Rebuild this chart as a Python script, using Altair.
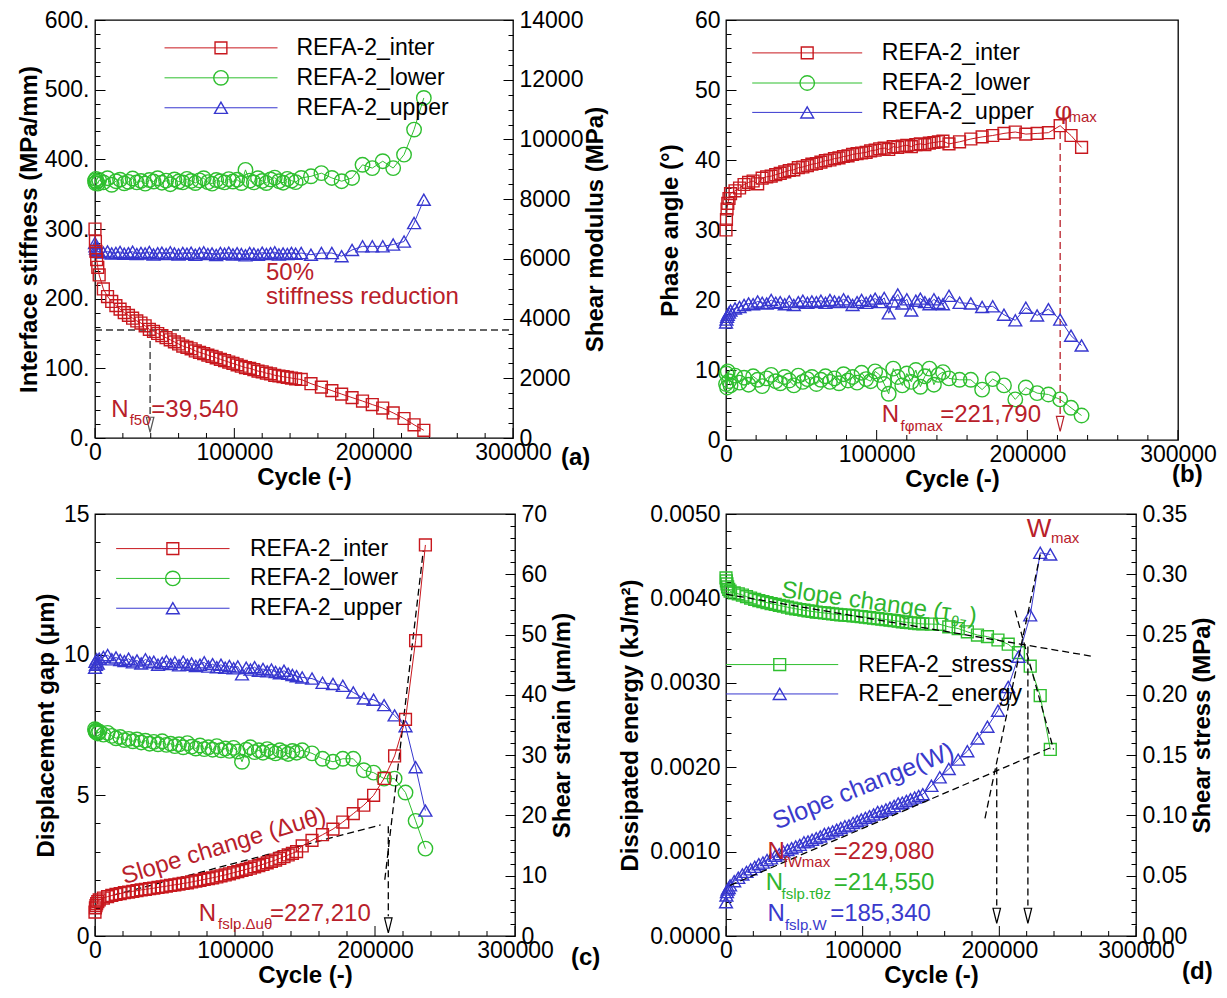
import altair as alt
import pandas as pd

FONT = "Liberation Sans"
SERIF = "DejaVu Serif"

# ------------------------------------------------------------------ data
CYC_DENSE = [0, 300, 700, 1200, 2000, 3000, 6000, 9000, 12000, 15000, 18000, 21000, 24000,
             27000, 30000, 33000, 36000, 39000, 42000, 45000, 48000, 51000, 54000, 57000,
             60000, 63000, 66000, 69000, 72000, 75000, 78000, 81000, 84000, 87000, 90000,
             93000, 96000, 99000, 102000, 105000, 108000, 111000, 114000, 117000, 120000,
             123000, 126000, 129000, 132000, 135000, 138000, 141000, 144000]
TAIL_ABC = [148000, 155000, 162500, 170000, 177000, 184500, 192000, 199000, 206500, 214000,
            221790, 229000, 236000]
TAIL_D = [150300, 156400, 163000, 169900, 176600, 184000, 191300, 199000, 206500, 214000,
          222600, 229900, 237300]

A_INTER = [300, 282, 268, 256, 245, 234, 214, 203, 196, 190, 185, 180, 176, 172, 168, 165, 161,
           156, 153, 150, 147, 144, 141, 138, 135, 132, 130, 128, 125, 123, 121, 119, 117, 115,
           113, 111, 109, 107, 105, 103, 101, 100, 98, 96, 95, 93, 92, 90, 89, 88, 87, 86, 85]
A_INTER_T = [84, 78, 73, 68, 63, 58, 53, 48, 43, 36, 28, 19, 11]
A_LOWER = [8620, 8540, 8680, 8590, 8520, 8640, 8560, 8700, 8480, 8600, 8650, 8530, 8580, 8690,
           8560, 8610, 8520, 8640, 8590, 8700, 8550, 8620, 8500, 8660, 8590, 8560, 8680, 8610,
           8540, 8630, 8700, 8570, 8520, 8640, 8600, 8560, 8670, 8590, 8650, 8540, 8980, 8620,
           8560, 8700, 8610, 8540, 8660, 8720, 8600, 8550, 8680, 8620, 8570]
A_LOWER_T = [8710, 8765, 8870, 8710, 8600, 8710, 9150, 9040, 9270, 9040, 9490, 10330, 11390]
A_UPPER = [6530, 6420, 6340, 6290, 6260, 6230, 6210, 6250, 6180, 6200, 6230, 6170, 6190, 6240,
           6160, 6200, 6180, 6230, 6150, 6190, 6210, 6160, 6220, 6180, 6150, 6200, 6170, 6210,
           6140, 6190, 6220, 6160, 6180, 6130, 6200, 6170, 6210, 6150, 6190, 6160, 6120, 6200,
           6170, 6140, 6210, 6160, 6190, 6220, 6150, 6180, 6160, 6200, 6170]
A_UPPER_T = [6195, 6140, 6195, 6195, 6090, 6300, 6420, 6420, 6420, 6480, 6580, 7200, 7980]

B_INTER = [30.0, 31.5, 33.0, 33.8, 34.5, 35.2, 35.6, 36.0, 36.5, 36.8, 37.0, 36.6, 37.4, 37.6,
           37.7, 37.9, 38.1, 38.3, 38.5, 38.6, 38.9, 39.0, 39.2, 39.4, 39.5, 39.7, 39.9, 40.0,
           40.2, 40.3, 40.5, 40.6, 40.8, 40.9, 41.0, 41.1, 41.3, 41.4, 41.6, 41.7, 41.5, 41.9,
           41.8, 42.0, 42.1, 41.9, 42.2, 42.3, 42.2, 42.4, 42.5, 42.6, 42.7]
B_INTER_T = [42.3, 42.6, 43.0, 43.3, 43.5, 43.8, 44.0, 43.7, 43.8, 43.9, 44.9, 43.5, 41.8]
B_UPPER = [16.8, 17.2, 17.6, 17.9, 18.2, 18.5, 18.8, 19.0, 19.3, 19.5, 19.4, 19.8, 19.6, 19.5,
           20.0, 19.6, 19.7, 19.4, 19.8, 19.3, 19.7, 19.9, 19.6, 19.8, 19.7, 19.9, 19.6, 20.0,
           19.8, 19.7, 20.1, 19.8, 19.3, 19.7, 20.0, 19.6, 19.9, 20.2, 19.7, 20.3, 18.1, 19.8,
           20.8, 19.5, 20.1, 18.5, 19.9, 20.2, 19.7, 19.4, 20.1, 19.6, 19.4]
B_UPPER_T = [20.6, 19.6, 19.5, 19.0, 19.1, 17.9, 17.1, 18.9, 17.8, 18.7, 17.2, 14.9, 13.5]
B_LOWER = [8.0, 9.5, 7.5, 9.8, 8.4, 7.8, 9.2, 8.2, 8.9, 7.9, 9.1, 8.6, 7.7, 8.8, 9.3, 8.4, 8.1,
           9.0, 8.5, 7.8, 9.2, 8.3, 8.7, 9.0, 8.0, 8.6, 9.1, 8.3, 8.8, 8.1, 9.4, 8.5, 9.0, 8.2,
           9.6, 8.7, 8.4, 9.8, 9.3, 8.0, 6.6, 10.2, 9.0, 7.8, 9.5, 8.3, 10.0, 7.6, 9.1, 10.2,
           7.9, 9.3, 9.7]
B_LOWER_T = [8.8, 8.6, 8.6, 7.2, 8.7, 7.8, 5.8, 7.5, 6.7, 6.5, 5.8, 4.6, 3.5]

C_INTER = [0.85, 1.0, 1.08, 1.15, 1.22, 1.28, 1.35, 1.4, 1.44, 1.48, 1.51, 1.54, 1.56, 1.59,
           1.61, 1.64, 1.66, 1.68, 1.7, 1.73, 1.75, 1.77, 1.8, 1.82, 1.84, 1.87, 1.89, 1.92,
           1.95, 1.98, 2.01, 2.04, 2.07, 2.1, 2.14, 2.17, 2.21, 2.25, 2.29, 2.33, 2.37, 2.41,
           2.46, 2.5, 2.55, 2.6, 2.65, 2.7, 2.76, 2.82, 2.88, 2.94, 3.0]
C_INTER_T = [3.2, 3.4, 3.6, 3.8, 4.05, 4.35, 4.65, 5.0, 5.6, 6.4, 7.7, 10.5, 13.9]
C_LOWER = [34.3, 34.0, 33.8, 34.1, 33.6, 33.9, 33.4, 33.7, 33.2, 32.8, 33.0, 32.5, 32.7, 32.3,
           32.6, 32.1, 32.4, 31.9, 32.2, 31.8, 32.3, 31.7, 31.9, 31.5, 31.8, 31.3, 32.0, 31.4,
           31.1, 31.6, 31.0, 31.3, 30.9, 31.5, 30.8, 31.1, 30.7, 31.2, 30.6, 28.9, 30.9, 31.3,
           30.5, 30.8, 30.4, 31.0, 30.6, 30.3, 30.8, 30.5, 30.2, 30.7, 30.4]
C_LOWER_T = [30.8, 30.3, 29.4, 28.9, 29.4, 29.4, 27.5, 27.1, 26.1, 26.1, 23.8, 19.1, 14.5]
C_UPPER = [44.5, 45.5, 45.0, 45.9, 45.2, 46.0, 46.3, 46.6, 45.9, 46.2, 45.8, 45.6, 46.0, 45.4,
           45.7, 45.2, 45.9, 45.4, 45.5, 45.0, 45.3, 45.6, 45.1, 45.4, 44.9, 45.5, 45.0, 45.2,
           44.8, 45.0, 45.4, 44.7, 45.1, 44.6, 45.0, 44.5, 44.8, 44.4, 44.7, 43.4, 44.5, 44.2,
           44.6, 44.0, 44.3, 43.9, 44.2, 43.8, 43.6, 44.0, 43.5, 43.3, 43.1]
C_UPPER_T = [42.9, 42.7, 42.0, 41.8, 41.5, 40.4, 39.4, 39.2, 38.3, 36.6, 34.8, 28.0, 20.8]

D_ENERGY = [0.00040, 0.00048, 0.00052, 0.00055, 0.00057, 0.00060, 0.00065, 0.00069, 0.00073,
            0.00076, 0.00079, 0.00082, 0.00085, 0.00087, 0.00090, 0.00092, 0.00095, 0.00097,
            0.00100, 0.00102, 0.00104, 0.00106, 0.00108, 0.00111, 0.00112, 0.00114, 0.00116,
            0.00118, 0.00121, 0.00122, 0.00124, 0.00126, 0.00128, 0.00130, 0.00131, 0.00134,
            0.00136, 0.00138, 0.00140, 0.00142, 0.00144, 0.00147, 0.00148, 0.00150, 0.00152,
            0.00154, 0.00157, 0.00158, 0.00160, 0.00162, 0.00164, 0.00166, 0.00168]
D_ENERGY_T = [0.00178, 0.00188, 0.00198, 0.00209, 0.00219, 0.00234, 0.00248, 0.00267, 0.00295,
              0.00331, 0.00380, 0.00454, 0.00452]
D_STRESS = [0.297, 0.2945, 0.292, 0.2895, 0.2875, 0.286, 0.2845, 0.2838, 0.2828, 0.2815, 0.2803,
            0.2792, 0.2782, 0.2773, 0.2765, 0.2757, 0.275, 0.2742, 0.2735, 0.2727, 0.272, 0.2714,
            0.2708, 0.2702, 0.2697, 0.2692, 0.2687, 0.2683, 0.2679, 0.2675, 0.2671, 0.2667,
            0.2664, 0.2661, 0.2659, 0.2656, 0.2652, 0.2648, 0.2644, 0.264, 0.2636, 0.2632,
            0.2628, 0.2624, 0.262, 0.2615, 0.2611, 0.2606, 0.2602, 0.2598, 0.2595, 0.2591, 0.2588]
D_STRESS_T = [0.2587, 0.2585, 0.2564, 0.2550, 0.2523, 0.2496, 0.2483, 0.2455, 0.2420, 0.2350,
              0.2238, 0.1994, 0.1547]

A_NOTES = [(11700, 40.7, "N"), (24900, 26.4, "f50"), (40400, 40.7, "=39,540"),
           (122700, 237, "50%"), (122700, 203, "stiffness reduction"), (345000, -29, "(a)")]
B_NOTES = [(103400, 3.55, "N"), (115900, 2.0, "fφmax"), (142200, 3.55, "=221,790"),
           (218200, 47.0, "φ"), (227300, 46.1, "max"), (306200, -4.95, "(b)")]
C_NOTES = [(92000, 3.18, "Slope change (Δuθ)"), (74100, 0.77, "N"), (87900, 0.41, "fslp.Δuθ"),
           (125000, 0.77, "=227,210"), (350400, -0.77, "(c)")]
D_NOTES = [(100400, 0.001775, "Slope change(W)"),
           (40600, 0.0041, "Slope change (τ"), (40600, 0.0041, "θz"), (40600, 0.0041, ")"),
           (220100, 0.004826, "W"), (237800, 0.00471, "max"),
           (30300, 0.00100, "N"), (42050, 0.000872, "fWmax"), (78800, 0.00100, "=229,080"),
           (29000, 0.000631, "N"), (40700, 0.000503, "fslp.τθz"), (78800, 0.000631, "=214,550"),
           (30300, 0.000263, "N"), (43100, 0.000128, "fslp.W"), (76200, 0.000263, "=185,340"),
           (344900, -0.000427, "(d)")]

A_DASH = [(0, 155, 300000, 155), (39540, 155, 39540, 25)]
A_ARROW = [(39540, 19)]
B_DASH = [(221790, 44.0, 221790, 3.6)]
B_ARROW = [(221790, 2.3)]
C_DASH = [(13000, 1.45, 204000, 3.95), (207000, 2.0, 234500, 13.7), (209500, 3.9, 209500, 0.7)]
C_ARROW = [(209500, 0.38)]
D_DASH = [(0, 0.00405, 268000, 0.003314), (211500, 0.003856, 239700, 0.00221),
          (3000, 0.00060, 237300, 0.00223), (189500, 0.001395, 229900, 0.00452),
          (198100, 0.00200, 198100, 0.00036), (220900, 0.00343, 220900, 0.00036)]
D_ARROW = [(198100, 0.00024), (220900, 0.00024)]

A_LEG_LABELS = ["REFA-2_inter", "REFA-2_lower", "REFA-2_upper"]
A_LEG_Y = [560, 517, 474]
A_LEG_X = [49900, 90400, 131000, 144600]
B_LEG_Y = [55.3, 51.0, 46.8]
B_LEG_X = [17400, 53900, 90400, 103400]
C_LEG_Y = [13.77, 12.71, 11.65]
C_LEG_X = [15100, 55600, 96100, 110700]
D_LEG_LABELS = ["REFA-2_stress", "REFA-2_energy"]
D_LEG_Y = [0.003216, 0.002868]
D_LEG_X = [0, 39300, 82100, 96800]

# cycle-axis tick positions
X_MAJOR = [0, 100000, 200000, 300000]
X_MINOR = [20000, 40000, 60000, 80000, 120000, 140000, 160000, 180000, 220000, 240000,
           260000, 280000]

# ------------------------------------------------------------------ styling
RED, GREEN, BLUE = "#C8181E", "#2FBF2F", "#3737CF"
TRED, TGREEN, TBLUE = "#B8202A", "#2EB52E", "#3A3ACC"
SQ = ("square", 140)
CI = ("circle", 210)
TR = ("triangle-up", 165)
ARROW = "M-0.5,-1L0.5,-1L0,1Z"

WA, HA = 418, 418
WB, HB = 452, 420
WC, HC = 420, 422
WD, HD = 410, 422


def tick_values(lo, hi, step):
    n = int(round((hi - lo) / step))
    return [round(lo + i * step, 8) for i in range(n + 1)]


def make_axis(orient, lo, hi, minor, major, fmt, title, suffix="", label_pad=6, title_pad=3):
    test = f"abs(datum.value / {major} - round(datum.value / {major})) < 0.000001"
    if orient == "bottom":
        extra = dict(grid=False, values=tick_values(lo, hi, major))
        lab = f"format(datum.value, '{fmt}')"
    else:
        # inward ticks drawn as short grid dashes starting at the axis edge
        extra = dict(grid=True, gridColor="black", gridOpacity=1, gridWidth=1,
                     gridDash={"condition": {"test": test, "value": [10, 5000]},
                               "value": [5, 5000]},
                     values=tick_values(lo, hi, minor))
        lab = f"({test}) ? format(datum.value, '{fmt}') + '{suffix}' : ''"
    if orient == "right":
        extra.update(titleAngle=270, titleBaseline="top")
    return alt.Axis(
        orient=orient, domain=False, ticks=False, tickSize=0, labelExpr=lab,
        labelFont=FONT, labelFontSize=23, labelColor="black", labelPadding=label_pad,
        labelOverlap=False, labelFlush=False,
        title=title, titleFont=FONT, titleFontSize=24, titleFontWeight="bold",
        titleColor="black", titlePadding=title_pad, **extra)


XAX = make_axis("bottom", 0, 300000, 20000, 100000, "d", "Cycle (-)", label_pad=3, title_pad=1)


def enc(ydom, yax):
    return {"x": alt.X("cycle:Q", scale=alt.Scale(domain=[0, 300000], nice=False, zero=False),
                       axis=XAX),
            "y": alt.Y("val:Q", scale=alt.Scale(domain=ydom, nice=False, zero=False), axis=yax)}


def xticks(E, h):
    out = []
    for vals, ln in ((X_MAJOR, 10), (X_MINOR, 5)):
        df = pd.DataFrame({"cycle": vals})
        out.append(alt.Chart(df).mark_rule(color="black", strokeWidth=1).encode(
            x=E["x"], y=alt.value(h), y2=alt.value(h - ln)))
    return out


def series(cyc, vals, color, mk, E):
    df = pd.DataFrame({"cycle": cyc, "val": vals})
    return [alt.Chart(df).mark_line(color=color, strokeWidth=1).encode(**E),
            alt.Chart(df).mark_point(shape=mk[0], size=mk[1], color=color, filled=False,
                                     strokeWidth=1.4, opacity=1).encode(**E)]


def dashes(rows, E, color="black"):
    df = pd.DataFrame(rows, columns=["cycle", "val", "cycle2", "val2"])
    return alt.Chart(df).mark_rule(color=color, strokeDash=[7, 4], strokeWidth=1.3).encode(
        **E, x2="cycle2:Q", y2="val2:Q")


def arrows(pts, E, color="black"):
    df = pd.DataFrame(pts, columns=["cycle", "val"])
    return alt.Chart(df).mark_point(shape=ARROW, size=225, color=color, filled=False,
                                    strokeWidth=1.2, opacity=1).encode(**E)


def text(x, y, s, E, size=24, color="black", font=FONT, weight="normal", align="left",
         angle=0, dx=0, dy=0):
    df = pd.DataFrame({"cycle": [x], "val": [y], "t": [s]})
    return alt.Chart(df).mark_text(align=align, baseline="middle", font=font, fontSize=size,
                                   fontWeight=weight, color=color, angle=angle, dx=dx,
                                   dy=dy).encode(**E, text="t:N")


def notes(items, styles, E):
    return [text(x, y, s, E, **st) for (x, y, s), st in zip(items, styles)]


def legend(labels, ys, xs, marks, E):
    out = []
    for lab, y, (color, mk) in zip(labels, ys, marks):
        ldf = pd.DataFrame({"cycle": [xs[0]], "cycle2": [xs[2]], "val": [y]})
        out.append(alt.Chart(ldf).mark_rule(color=color, strokeWidth=1).encode(
            **E, x2="cycle2:Q"))
        pdf = pd.DataFrame({"cycle": [xs[1]], "val": [y]})
        out.append(alt.Chart(pdf).mark_point(shape=mk[0], size=mk[1], color=color,
                                             filled=False, strokeWidth=1.4,
                                             opacity=1).encode(**E))
        out.append(text(xs[3], y, lab, E, size=23))
    return out


TAG = dict(size=24, weight="bold", align="center")

# ------------------------------------------------------------------ panel (a)
EAL = enc([0, 600], make_axis("left", 0, 600, 20, 100, "d", "Interface stiffness (MPa/mm)",
                              suffix=".", title_pad=3))
EAR = enc([0, 14000], make_axis("right", 0, 14000, 500, 2000, "d", "Shear modulus (MPa)",
                                title_pad=1))
a_styles = [dict(color=TRED), dict(size=15, color=TRED), dict(color=TRED),
            dict(color=TRED), dict(color=TRED), TAG]
a_left = alt.layer(
    *xticks(EAL, HA),
    dashes(A_DASH, EAL, "#333333"), arrows(A_ARROW, EAL, "#555555"),
    *series(CYC_DENSE + TAIL_ABC, A_INTER + A_INTER_T, RED, SQ, EAL),
    *legend(A_LEG_LABELS, A_LEG_Y, A_LEG_X, [(RED, SQ), (GREEN, CI), (BLUE, TR)], EAL),
    *notes(A_NOTES, a_styles, EAL))
a_right = alt.layer(
    *series(CYC_DENSE + TAIL_ABC, A_LOWER + A_LOWER_T, GREEN, CI, EAR),
    *series(CYC_DENSE + TAIL_ABC, A_UPPER + A_UPPER_T, BLUE, TR, EAR))
pa = alt.layer(a_right, a_left).resolve_scale(y="independent").properties(width=WA, height=HA)

# ------------------------------------------------------------------ panel (b)
EB = enc([0, 60], make_axis("left", 0, 60, 2, 10, "d", "Phase angle (°)", title_pad=12))
b_styles = [dict(color=TRED), dict(size=15, color=TRED), dict(color=TRED),
            dict(size=25, color=TRED, font=SERIF), dict(size=15, color=TRED), TAG]
pb = alt.layer(
    *xticks(EB, HB),
    dashes(B_DASH, EB, TRED), arrows(B_ARROW, EB, TRED),
    *series(CYC_DENSE + TAIL_ABC, B_LOWER + B_LOWER_T, GREEN, CI, EB),
    *series(CYC_DENSE + TAIL_ABC, B_UPPER + B_UPPER_T, BLUE, TR, EB),
    *series(CYC_DENSE + TAIL_ABC, B_INTER + B_INTER_T, RED, SQ, EB),
    *legend(A_LEG_LABELS, B_LEG_Y, B_LEG_X, [(RED, SQ), (GREEN, CI), (BLUE, TR)], EB),
    *notes(B_NOTES, b_styles, EB)).properties(width=WB, height=HB)

# ------------------------------------------------------------------ panel (c)
ECL = enc([0, 15], make_axis("left", 0, 15, 1, 5, "d", "Displacement gap (μm)", title_pad=5))
ECR = enc([0, 70], make_axis("right", 0, 70, 2, 10, "d", "Shear strain (μm/m)", title_pad=4))
c_styles = [dict(color=TRED, align="center", angle=343), dict(color=TRED),
            dict(size=15, color=TRED), dict(color=TRED), TAG]
c_left = alt.layer(
    *xticks(ECL, HC),
    dashes(C_DASH, ECL), arrows(C_ARROW, ECL),
    *series(CYC_DENSE + TAIL_ABC, C_INTER + C_INTER_T, RED, SQ, ECL),
    *legend(A_LEG_LABELS, C_LEG_Y, C_LEG_X, [(RED, SQ), (GREEN, CI), (BLUE, TR)], ECL),
    *notes(C_NOTES, c_styles, ECL))
c_right = alt.layer(
    *series(CYC_DENSE + TAIL_ABC, C_LOWER + C_LOWER_T, GREEN, CI, ECR),
    *series(CYC_DENSE + TAIL_ABC, C_UPPER + C_UPPER_T, BLUE, TR, ECR))
pc = alt.layer(c_right, c_left).resolve_scale(y="independent").properties(width=WC, height=HC)

# ------------------------------------------------------------------ panel (d)
EDL = enc([0, 0.005], make_axis("left", 0, 0.005, 0.0002, 0.001, ".4f",
                                "Dissipated energy (kJ/m²)", title_pad=7))
EDR = enc([0, 0.35], make_axis("right", 0, 0.35, 0.01, 0.05, ".2f", "Shear stress (MPa)",
                               title_pad=4))
d_styles = [dict(color=TBLUE, size=25, align="center", angle=338),
            dict(color=TGREEN, angle=8), dict(color=TGREEN, size=15, angle=8, dx=172, dy=7),
            dict(color=TGREEN, angle=8, dx=189),
            dict(color=TRED, size=26), dict(color=TRED, size=15),
            dict(color=TRED), dict(color=TRED, size=15), dict(color=TRED),
            dict(color=TGREEN), dict(color=TGREEN, size=15), dict(color=TGREEN),
            dict(color=TBLUE), dict(color=TBLUE, size=15), dict(color=TBLUE),
            TAG]
d_left = alt.layer(
    *xticks(EDL, HD),
    *series(CYC_DENSE + TAIL_D, D_ENERGY + D_ENERGY_T, BLUE, TR, EDL),
    dashes(D_DASH, EDL), arrows(D_ARROW, EDL),
    *legend(D_LEG_LABELS, D_LEG_Y, D_LEG_X, [(GREEN, SQ), (BLUE, TR)], EDL),
    *notes(D_NOTES, d_styles, EDL))
d_right = alt.layer(*series(CYC_DENSE + TAIL_D, D_STRESS + D_STRESS_T, GREEN, SQ, EDR))
pd_ = alt.layer(d_right, d_left).resolve_scale(y="independent").properties(width=WD, height=HD)

chart = alt.concat(pa, pb, pc, pd_, columns=2, spacing={"row": 74, "column": 211},
                   bounds="flush").configure_view(stroke="black", strokeWidth=1.3).properties(
    padding={"left": 8, "top": 0, "right": 0, "bottom": 0}, background="white")

chart.save("out.html", embed_options={"renderer": "svg", "actions": False})
